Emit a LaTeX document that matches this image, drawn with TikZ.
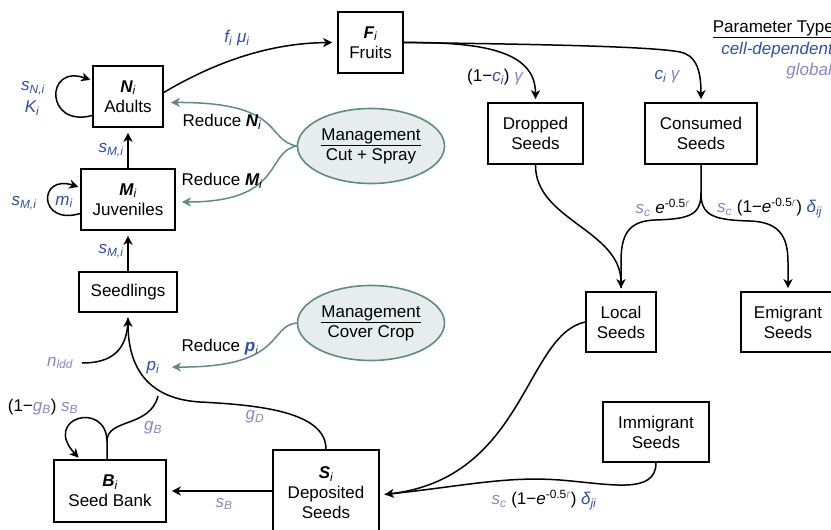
\documentclass[tikz,border=0pt]{standalone}
\usepackage{fontspec}
\setmainfont{Liberation Sans}
\usetikzlibrary{arrows.meta,shapes.geometric}
\definecolor{cdep}{RGB}{48,78,165}
\definecolor{glob}{RGB}{140,132,200}
\definecolor{mgmt}{RGB}{95,140,130}
\definecolor{ellfill}{RGB}{231,236,236}
\newcommand\bv[2]{{\bfseries\itshape #1}\textsubscript{\itshape #2}}
\newcommand\iv[2]{{\itshape #1\textsubscript{#2}}}
\begin{document}
\begin{tikzpicture}[x=1pt,y=-1pt,
  every node/.style={font=\fontsize{17}{20}\selectfont, inner sep=0pt},
  box/.style={draw, line width=1.6pt, align=center, inner sep=0pt},
  ell/.style={ellipse, draw=mgmt, fill=ellfill, line width=1.6pt, align=center, minimum width=147pt, minimum height=75pt},
  arr/.style={line width=1.5pt, -{Stealth[length=9pt,width=9pt,inset=2.5pt]}, shorten >=5pt},
  flow/.style={line width=1.5pt},
  marr/.style={line width=1.5pt, draw=mgmt, -{Stealth[length=9pt,width=9pt,inset=2.5pt]}},
  lbl/.style={font=\fontsize{17}{20}\selectfont}
]
\useasboundingbox (0,0) rectangle (831,530);
\clip (0,0) rectangle (831,530);

% boxes
\node[box, minimum width=70pt, minimum height=61pt] (adults) at (128,96.5) {\bv{N}{i}\\Adults};
\node[box, minimum width=65pt, minimum height=61pt] (fruits) at (370.5,42.5) {\bv{F}{i}\\Fruits};
\node[box, minimum width=94pt, minimum height=61pt] (juv) at (128,199.5) {\bv{M}{i}\\Juveniles};
\node[box, minimum width=98pt, minimum height=40pt] (seedl) at (128,292) {Seedlings};
\node[box, minimum width=112pt, minimum height=62pt] (seedbank) at (110,491) {\bv{B}{i}\\Seed Bank};
\node[box, minimum width=106pt, minimum height=86pt] (dep) at (326,493) {\bv{S}{i}\\Deposited\\Seeds};
\node[box, minimum width=95pt, minimum height=61pt] (dropped) at (535.5,133.5) {Dropped\\Seeds};
\node[box, minimum width=112pt, minimum height=61pt] (consumed) at (701,133.5) {Consumed\\Seeds};
\node[box, minimum width=70pt, minimum height=60pt] (local) at (621,322) {Local\\Seeds};
\node[box, minimum width=94pt, minimum height=60pt] (emig) at (788,322) {Emigrant\\Seeds};
\node[box, minimum width=106pt, minimum height=60pt] (imm) at (656,432) {Immigrant\\Seeds};

% management ellipses
\node[ell] (cut) at (371,146) {\underline{Management}\\Cut + Spray};
\node[ell] (cover) at (371,323) {\underline{Management}\\Cover Crop};

% legend
\node[anchor=east] (legt) at (834,29) {\underline{Parameter Type}};
\node[anchor=east, text=cdep] (legc) at (833,50) {\itshape cell-dependent};
\node[anchor=east, text=glob] (legg) at (832,71) {\itshape global};

% adults -> fruits
\draw[arr] ([yshift=4pt]adults.east) .. controls (215,62) and (270,43) .. (fruits.west);
\node[lbl, text=cdep] (lfm) at (237,38) {{\itshape f\textsubscript{i} μ\textsubscript{i}}};

% adults loop
\draw[arr, shorten >=2pt] ([yshift=-19pt]adults.west) .. controls (45,128) and (45,64) .. ([yshift=16pt]adults.west);
\node[lbl, text=cdep] (lsn) at (33,88) {\iv{s}{N,i}};
\node[lbl, text=cdep] (lk) at (32,108) {\iv{K}{i}};

% juveniles -> adults
\draw[arr] (juv.north) -- (adults.south);
\node[lbl, text=cdep] (lsm1) at (111,150) {\iv{s}{M,i}};

% juveniles loop
\draw[arr, shorten >=2pt] ([yshift=-14pt]juv.west) .. controls (38,226) and (38,174) .. ([yshift=12pt]juv.west);
\node[lbl, text=cdep] (lm) at (64,202) {\iv{m}{i}};
\node[lbl, text=cdep] (lsm2) at (24,203) {\iv{s}{M,i}};

% seedlings -> juveniles
\draw[arr] (seedl.north) -- (juv.south);
\node[lbl, text=cdep] (lsm3) at (111,251) {\iv{s}{M,i}};

% fruits -> dropped / consumed
\draw[arr, shorten >=3pt] (fruits.east) .. controls (480,42) and (535.5,50) .. (dropped.north);
\draw[arr, shorten >=3pt] (fruits.east) .. controls (520,44) and (650,46) .. (680,52) .. controls (695,55) and (701,68) .. (consumed.north);
\node[lbl] (lcg1) at (495,77) {(1−{\color{cdep}\iv{c}{i}}) {\color{glob}\itshape γ}};
\node[lbl] (lcg2) at (667,77) {{\color{cdep}\iv{c}{i}} {\color{glob}\itshape γ}};

% dropped/consumed -> local / emigrant
\coordinate (csplit) at ([yshift=-28pt]consumed.south);
\draw[arr, shorten >=3pt] (dropped.south) .. controls (535,220) and (621,230) .. (local.north);
\draw[flow, shorten >=3pt] (consumed.south) -- (csplit) .. controls (701,215) and (690,219) .. (655,220) .. controls (628,221) and (621,235) .. (621,262) -- (local.north);
\draw[arr, shorten >=3pt] (csplit) .. controls (701,215) and (712,220) .. (750,221) .. controls (778,222) and (788,235) .. (788,262) -- (emig.north);
\node[lbl, anchor=east] (lloc) at (690,208) {{\color{glob}\iv{s}{c}} {\itshape e}\textsuperscript{-0.5{\color{glob}\itshape r}}};
\node[lbl, anchor=west] (lemi) at (717,208) {{\color{glob}\iv{s}{c}} (1−{\itshape e}\textsuperscript{-0.5{\color{glob}\itshape r}}) {\color{cdep}\itshape δ\textsubscript{ij}}};

% local / immigrant -> deposited
\coordinate (depin) at ([yshift=-2pt]dep.east);
\draw[arr] (local.west) .. controls (525,335) and (525,478) .. (depin);
\draw[flow, shorten >=5pt] (imm.south) .. controls (656,495) and (610,484) .. (560,480) .. controls (505,476) and (465,486) .. (depin);
\node[lbl] (limm) at (544,500) {{\color{glob}\iv{s}{c}} (1−{\itshape e}\textsuperscript{-0.5{\color{glob}\itshape r}}) {\color{cdep}\itshape δ\textsubscript{ji}}};

% deposited -> seed bank
\draw[arr] (seedbank.east -| dep.west) -- (seedbank.east);
\node[lbl, text=glob] (lsb) at (224,504) {\iv{s}{B}};

% deposited -> seedlings
\draw[arr] (dep.north) .. controls (326,412) and (260,405) .. (200,402) .. controls (150,399) and (128,370) .. (seedl.south);
\node[lbl, text=glob] (lgd) at (255,417) {\iv{g}{D}};

% seed bank -> seedlings branch and loop
\coordinate (bj) at ([xshift=-3pt,yshift=18pt]seedbank.north);
\draw[flow] ([xshift=-3pt]seedbank.north) -- (bj) .. controls (107,418) and (150,428) .. (158,396);
\draw[arr, shorten >=2pt] (bj) .. controls (106,400) and (42,418) .. ([xshift=-30pt]seedbank.north);
\node[lbl, text=glob] (lgb) at (153,428) {\iv{g}{B}};
\node[lbl] (lgbs) at (43,407) {(1−{\color{glob}\iv{g}{B}}) {\color{glob}\iv{s}{B}}};

% n_ldd
\coordinate (nl) at (82,363);
\draw[flow, shorten >=5pt] (nl) .. controls (110,363) and (128,352) .. (seedl.south);
\node[lbl, text=glob] (lnl) at (60,363) {\iv{n}{ldd}};
\node[lbl, text=cdep] (lp) at (153,368) {\iv{p}{i}};

% management arrows
\coordinate (pitip) at (172,367);
\draw[marr] (cut.west) .. controls (265,140) and (285,102) .. ([xshift=7pt,yshift=-6pt]adults.east);
\draw[marr] (cut.west) .. controls (265,152) and (285,202) .. ([xshift=6pt,yshift=-2.5pt]juv.east);
\draw[marr] (cover.west) .. controls (268,326) and (285,368) .. (pitip);
\node (rn) at (222,122) {Reduce \bv{N}{i}};
\node (rm) at (222,181) {Reduce \bv{M}{i}};
\node (rp) at (220,347) {Reduce {\color{cdep}\bv{p}{i}}};
\end{tikzpicture}
\end{document}
